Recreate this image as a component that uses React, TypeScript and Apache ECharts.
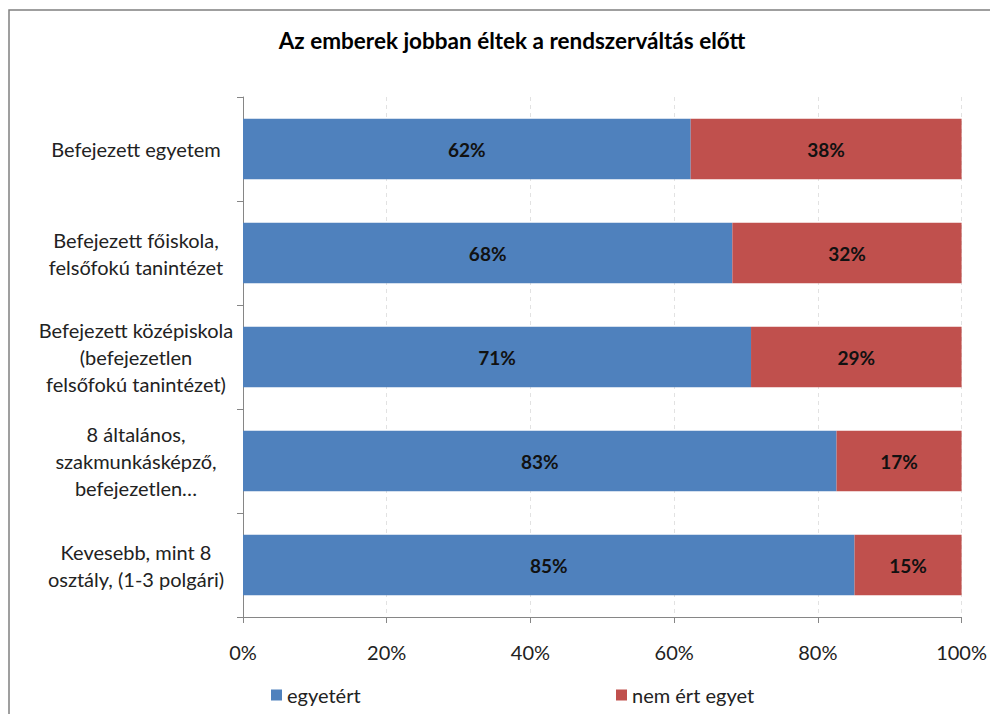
import React, { useEffect, useRef } from "react";
import * as echarts from "echarts";

const titleText = "Az emberek jobban éltek a rendszerváltás előtt";
const categories = [
  "Befejezett egyetem",
  "Befejezett főiskola,\nfelsőfokú tanintézet",
  "Befejezett középiskola\n(befejezetlen\nfelsőfokú tanintézet)",
  "8 általános,\nszakmunkásképző,\nbefejezetlen…",
  "Kevesebb, mint 8\nosztály, (1-3 polgári)",
];
const agreeName = "egyetért";
const disagreeName = "nem ért egyet";
const agreeValues = [62.3, 68.1, 70.7, 82.6, 85.1];
const disagreeValues = [37.7, 31.9, 29.3, 17.4, 14.9];
const xTicks = [0, 20, 40, 60, 80, 100];

const FONT = "Lato, 'Open Sans', sans-serif";

export default function App() {
  const ref = useRef<HTMLDivElement>(null);
  useEffect(() => {
    if (!ref.current) return;
    const chart = echarts.init(ref.current, null, { renderer: "svg" });
    const labelCfg = {
      show: true,
      position: "inside",
      fontFamily: FONT,
      fontSize: 19,
      fontWeight: "bold",
      color: "#111",
      formatter: (p: any) => Math.round(p.value) + "%",
    };
    chart.setOption({
      animation: false,
      backgroundColor: "#fff",
      title: {
        text: titleText,
        left: 507,
        top: 24,
        textAlign: "center",
        textStyle: { fontFamily: FONT, fontSize: 22.5, fontWeight: "bold", color: "#000" },
      },
      graphic: [
        {
          type: "rect",
          shape: { x: 9, y: 10, width: 1000, height: 720 },
          style: { fill: "none", stroke: "#808080", lineWidth: 1.5 },
          silent: true,
        },
      ],
      legend: [
        {
          data: [agreeName],
          left: 266,
          top: 680,
          icon: "rect",
          itemWidth: 11,
          itemHeight: 11,
          textStyle: { fontFamily: FONT, fontSize: 20, color: "#222" },
        },
        {
          data: [disagreeName],
          left: 611,
          top: 680,
          icon: "rect",
          itemWidth: 11,
          itemHeight: 11,
          textStyle: { fontFamily: FONT, fontSize: 20, color: "#222" },
        },
      ],
      grid: { left: 243, right: 28, top: 97, bottom: 97, containLabel: false },
      xAxis: {
        type: "value",
        min: 0,
        max: 100,
        interval: 20,
        axisLine: { show: true, lineStyle: { color: "#868686" } },
        axisTick: { show: true, length: 6, lineStyle: { color: "#868686" } },
        axisLabel: {
          margin: 25,
          fontFamily: FONT,
          fontSize: 20,
          color: "#222",
          formatter: (v: number) => (xTicks.includes(v) ? v + "%" : ""),
        },
        splitLine: { show: true, lineStyle: { color: "#e2e2e2", type: [4, 4] } },
      },
      yAxis: {
        type: "category",
        data: categories,
        inverse: true,
        axisLine: { show: true, lineStyle: { color: "#868686" } },
        axisTick: { show: true, length: 6, lineStyle: { color: "#868686" } },
        axisLabel: {
          align: "center",
          margin: 107,
          fontFamily: FONT,
          fontSize: 20,
          lineHeight: 27,
          color: "#222",
        },
        splitLine: { show: false },
      },
      series: [
        {
          name: agreeName,
          type: "bar",
          stack: "total",
          data: agreeValues,
          barWidth: "58%",
          itemStyle: { color: "#4F81BD" },
          label: labelCfg,
        },
        {
          name: disagreeName,
          type: "bar",
          stack: "total",
          data: disagreeValues,
          barWidth: "58%",
          itemStyle: { color: "#C0504D" },
          label: labelCfg,
        },
      ],
    });
    return () => chart.dispose();
  }, []);
  return (
    <div
      ref={ref}
      style={{ position: "fixed", left: 0, top: 0, width: 990, height: 714 }}
    />
  );
}
